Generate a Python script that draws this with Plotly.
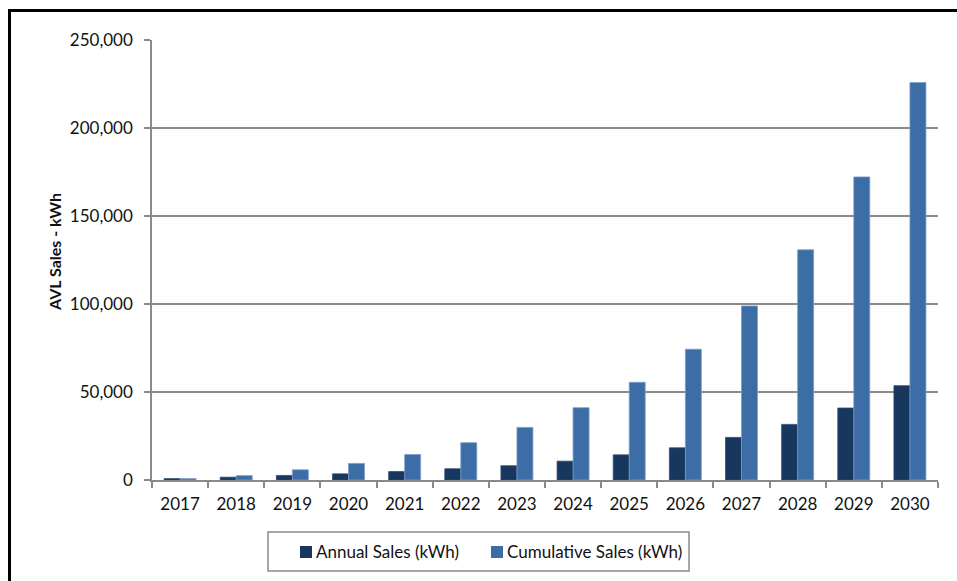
import plotly.graph_objects as go

# Yearly AVL sales, kWh
years = ["2017", "2018", "2019", "2020", "2021", "2022", "2023",
         "2024", "2025", "2026", "2027", "2028", "2029", "2030"]
annual_sales = [800, 1600, 2600, 3500, 4800, 6400, 8100,
                10700, 14300, 18300, 24200, 31600, 40900, 53600]
cumulative_sales = [800, 2500, 5800, 9400, 14500, 21200, 29900,
                    41100, 55500, 74300, 98900, 130800, 172200, 225800]

series_names = ["Annual Sales (kWh)", "Cumulative Sales (kWh)"]
y_ticks = [0, 50000, 100000, 150000, 200000, 250000]

ANNUAL_COLOR = "#17375E"
CUMUL_COLOR = "#3D6DA7"
GRID_COLOR = "#8A8A8A"
TEXT_COLOR = "#111111"
FONT = "Lato"

W, H = 957, 581
L, R, T, B = 152, 19, 40, 101
PW, PH = W - L - R, H - T - B


def px_x(x):
    return (x - L) / PW


def px_y(y):
    return (H - B - y) / PH


fig = go.Figure()
fig.add_trace(go.Bar(
    x=years, y=annual_sales, name=series_names[0],
    marker=dict(color=ANNUAL_COLOR, line=dict(color="#2E4D74", width=0.8)),
    showlegend=False,
))
fig.add_trace(go.Bar(
    x=years, y=cumulative_sales, name=series_names[1],
    marker=dict(color=CUMUL_COLOR, line=dict(color="#7D9DC8", width=0.8)),
    showlegend=False,
))

fig.update_layout(
    width=W, height=H,
    margin=dict(l=L, r=R, t=T, b=B, pad=0),
    paper_bgcolor="white", plot_bgcolor="white",
    barmode="group", bargap=0.43, bargroupgap=0,
    font=dict(family=FONT, size=17, color=TEXT_COLOR),
)

fig.update_xaxes(
    type="category", tickson="boundaries",
    ticks="outside", ticklen=6, tickwidth=1.5, tickcolor=GRID_COLOR,
    showline=True, linecolor=GRID_COLOR, linewidth=1.5,
    showgrid=False, ticklabelstandoff=8,
    tickfont=dict(family=FONT, size=17, color=TEXT_COLOR),
)
fig.update_yaxes(
    range=[0, 250000], tickvals=y_ticks, tickformat=",",
    ticks="outside", ticklen=6, tickwidth=1.5, tickcolor=GRID_COLOR,
    showline=True, linecolor=GRID_COLOR, linewidth=1.5,
    showgrid=True, gridcolor=GRID_COLOR, gridwidth=1.5,
    zeroline=False, ticklabelstandoff=8,
    tickfont=dict(family=FONT, size=17, color=TEXT_COLOR),
)

# y-axis title
fig.add_annotation(
    text="<b>AVL Sales - kWh</b>", textangle=-90,
    xref="paper", yref="paper", x=px_x(54), y=px_y(252),
    xanchor="center", yanchor="middle", showarrow=False,
    font=dict(family=FONT, size=16, color=TEXT_COLOR),
)

# legend box with swatches and labels
shapes = [
    dict(type="rect", xref="paper", yref="paper",
         x0=px_x(268), x1=px_x(689), y0=px_y(571), y1=px_y(532),
         line=dict(color=GRID_COLOR, width=1.5), fillcolor="white"),
    dict(type="rect", xref="paper", yref="paper",
         x0=px_x(300), x1=px_x(312), y0=px_y(558), y1=px_y(546),
         line=dict(width=0), fillcolor=ANNUAL_COLOR),
    dict(type="rect", xref="paper", yref="paper",
         x0=px_x(491), x1=px_x(503), y0=px_y(558), y1=px_y(546),
         line=dict(width=0), fillcolor=CUMUL_COLOR),
    # outer frame (left and top edges)
    dict(type="line", xref="paper", yref="paper",
         x0=px_x(9.5), x1=px_x(9.5), y0=px_y(10), y1=px_y(600),
         line=dict(color="black", width=3)),
    dict(type="line", xref="paper", yref="paper",
         x0=px_x(8), x1=px_x(970), y0=px_y(10.5), y1=px_y(10.5),
         line=dict(color="black", width=3)),
]
fig.update_layout(shapes=shapes)

for label, x_left in [(series_names[0], 314), (series_names[1], 505)]:
    fig.add_annotation(
        text=label, xref="paper", yref="paper",
        x=px_x(x_left), y=px_y(551.5), xanchor="left", yanchor="middle",
        showarrow=False, font=dict(family=FONT, size=17, color=TEXT_COLOR),
    )

fig.write_html("out.html")
